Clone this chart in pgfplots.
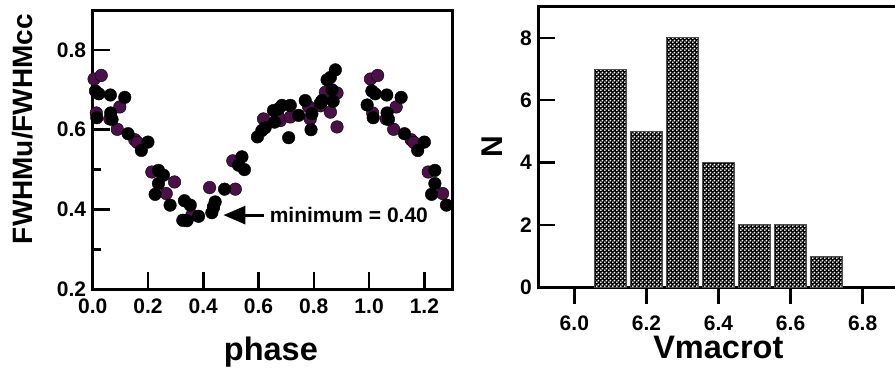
\documentclass[border=0pt]{standalone}
\usepackage{fontspec}
\setmainfont{Liberation Sans}
\usepackage{pgfplots}
\pgfplotsset{compat=1.18}
\usetikzlibrary{patterns,arrows.meta}
\definecolor{pur}{RGB}{75,16,72}
\pgfdeclarepatternformonly{wdots}{\pgfqpoint{0pt}{0pt}}{\pgfqpoint{4pt}{4pt}}{\pgfqpoint{4pt}{4pt}}{%
 \pgfpathcircle{\pgfqpoint{1pt}{1pt}}{1.2pt}%
 \pgfpathcircle{\pgfqpoint{3pt}{3pt}}{1.2pt}%
 \pgfusepath{fill}}
\newcommand{\tickfont}{\bfseries\fontsize{21}{25}\selectfont}
\begin{document}
\begin{tikzpicture}
\path[use as bounding box] (0,0) rectangle (895pt,-370pt);
\begin{axis}[
 at={(92.7pt,-289.3pt)}, anchor=south west,
 scale only axis, width=359.3pt, height=279.3pt,
 xmin=0, xmax=1.3, ymin=0.2, ymax=0.9,
 axis line style={line width=3pt},
 axis on top,
 tick align=inside,
 major tick length=17pt, minor tick length=8pt,
 major tick style={line width=2.5pt, black},
 minor tick style={line width=2.5pt, black},
 xtick={0,0.2,0.4,0.6,0.8,1.0,1.2},
 ytick={0.2,0.4,0.6,0.8},
 minor ytick={0.3,0.5,0.7},
 xticklabel={\tickfont\pgfmathprintnumber[fixed,fixed zerofill,precision=1,assume math mode=true]{\tick}},
 yticklabel={\tickfont\pgfmathprintnumber[fixed,fixed zerofill,precision=1,assume math mode=true]{\tick}},
 xtick pos=left, ytick pos=left,
 xticklabel style={yshift=-6pt},
 yticklabel style={xshift=-3pt},
 xlabel={phase}, ylabel={FWHMu/FWHMcc},
 xlabel style={font=\bfseries\fontsize{32.5}{36}\selectfont, at={(axis description cs:0.496,-0.226)}, anchor=center},
 ylabel style={font=\bfseries\fontsize{28}{32}\selectfont, at={(axis description cs:-0.194,0.574)}, anchor=center},
]
\addplot[only marks, mark=*, mark size=6.3pt, mark options={draw=none, fill=pur}] coordinates {
(0.005,0.727) (0.031,0.736) (0.013,0.642) (0.062,0.627) (0.098,0.657) (0.089,0.601)
(0.152,0.575) (0.162,0.568) (0.214,0.494) (0.296,0.469) (0.266,0.440) (0.359,0.386)
(0.423,0.455) (0.437,0.407) (0.507,0.522) (0.516,0.451) (0.618,0.627) (0.679,0.623)
(0.672,0.632) (0.715,0.632) (0.781,0.658) (0.787,0.627) (0.824,0.660) (0.854,0.694)
(0.842,0.694) (0.884,0.692) (0.860,0.644) (0.884,0.607)
(1.005,0.727) (1.031,0.736) (1.013,0.642) (1.062,0.627) (1.098,0.657) (1.089,0.601)
(1.152,0.575) (1.162,0.568) (1.214,0.494) (1.266,0.440)
};
\addplot[only marks, mark=*, mark size=6.3pt, mark options={draw=none, fill=black}] coordinates {
(0.010,0.697) (0.022,0.690) (0.064,0.687) (0.116,0.681) (0.015,0.630) (0.065,0.642)
(0.070,0.626) (0.128,0.590) (0.200,0.569) (0.176,0.548) (0.238,0.498) (0.256,0.486)
(0.238,0.465) (0.226,0.438) (0.280,0.411) (0.332,0.422) (0.353,0.411) (0.326,0.373)
(0.341,0.372) (0.383,0.383) (0.477,0.451) (0.443,0.419) (0.437,0.405) (0.431,0.392)
(0.540,0.532) (0.528,0.511) (0.549,0.500) (0.596,0.582) (0.612,0.598) (0.624,0.605)
(0.658,0.619) (0.654,0.648) (0.672,0.652) (0.685,0.661) (0.715,0.661) (0.709,0.580)
(0.745,0.636) (0.769,0.673) (0.793,0.640) (0.790,0.600) (0.824,0.667) (0.830,0.673)
(0.870,0.671) (0.866,0.700) (0.848,0.725) (0.860,0.731) (0.878,0.750) (0.993,0.662)
(1.010,0.697) (1.022,0.690) (1.064,0.687) (1.116,0.681) (1.015,0.630) (1.065,0.642)
(1.070,0.626) (1.128,0.590) (1.200,0.569) (1.176,0.548) (1.238,0.498) (1.238,0.465)
(1.226,0.438) (1.280,0.411)
};
\draw[line width=3pt, -{Triangle[length=22pt,width=18pt]}] (axis cs:0.618,0.386) -- (axis cs:0.473,0.386);
\node[anchor=west, font=\bfseries\fontsize{21}{24}\selectfont, inner sep=0pt] at (axis cs:0.64,0.386) {minimum = 0.40};
\end{axis}

\begin{axis}[
 at={(538.3pt,-287.3pt)}, anchor=south west,
 scale only axis, width=360.4pt, height=280.6pt,
 xmin=5.9, xmax=6.9, ymin=0, ymax=9,
 axis line style={line width=3pt},
 tick align=inside,
 major tick length=17pt,
 major tick style={line width=2.5pt, black},
 xtick={6.0,6.2,6.4,6.6,6.8},
 ytick={0,2,4,6,8},
 xticklabel={\tickfont\pgfmathprintnumber[fixed,fixed zerofill,precision=1,assume math mode=true]{\tick}},
 yticklabel={\tickfont\pgfmathprintnumber[fixed,precision=0,assume math mode=true]{\tick}},
 xtick pos=left, ytick pos=left,
 xticklabel style={yshift=-8pt},
 yticklabel style={xshift=-3pt},
 xlabel={Vmacrot}, ylabel={N},
 xlabel style={font=\bfseries\fontsize{32.5}{36}\selectfont, at={(axis description cs:0.4995,-0.216)}, anchor=center},
 ylabel style={font=\bfseries\fontsize{30}{34}\selectfont, at={(axis description cs:-0.127,0.501)}, anchor=center},
 ybar, bar width=32.4pt,
]
\addplot[draw=gray!60!black, line width=1pt, fill=black, postaction={pattern=wdots, pattern color=white}] coordinates {
(6.1,7) (6.2,5) (6.3,8) (6.4,4) (6.5,2) (6.6,2) (6.7,1)
};
\end{axis}
\end{tikzpicture}
\end{document}
